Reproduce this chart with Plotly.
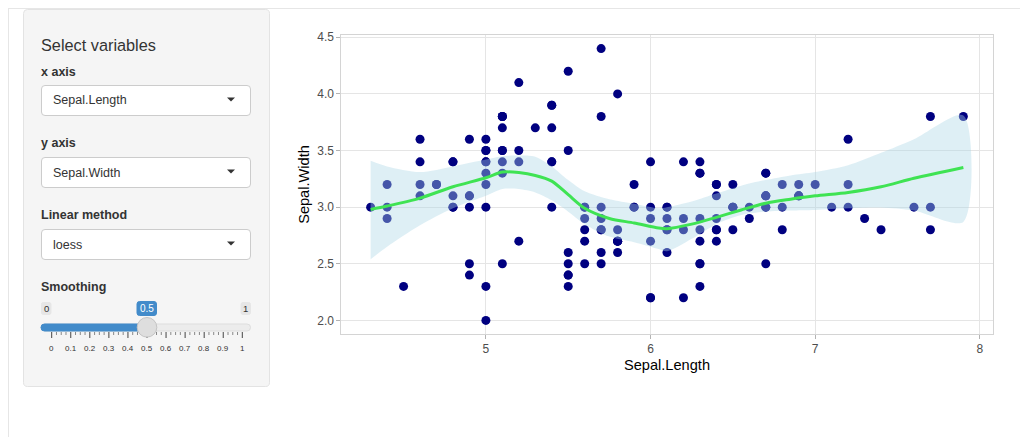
import plotly.graph_objects as go

# ---------------- data ----------------
sepal_length = [
    5.1, 4.9, 4.7, 4.6, 5.0, 5.4, 4.6, 5.0, 4.4, 4.9, 5.4, 4.8, 4.8, 4.3, 5.8, 5.7, 5.4, 5.1, 5.7, 5.1,
    5.4, 5.1, 4.6, 5.1, 4.8, 5.0, 5.0, 5.2, 5.2, 4.7, 4.8, 5.4, 5.2, 5.5, 4.9, 5.0, 5.5, 4.9, 4.4, 5.1,
    5.0, 4.5, 4.4, 5.0, 5.1, 4.8, 5.1, 4.6, 5.3, 5.0,
    7.0, 6.4, 6.9, 5.5, 6.5, 5.7, 6.3, 4.9, 6.6, 5.2, 5.0, 5.9, 6.0, 6.1, 5.6, 6.7, 5.6, 5.8, 6.2, 5.6,
    5.9, 6.1, 6.3, 6.1, 6.4, 6.6, 6.8, 6.7, 6.0, 5.7, 5.5, 5.5, 5.8, 6.0, 5.4, 6.0, 6.7, 6.3, 5.6, 5.5,
    5.5, 6.1, 5.8, 5.0, 5.6, 5.7, 5.7, 6.2, 5.1, 5.7,
    6.3, 5.8, 7.1, 6.3, 6.5, 7.6, 4.9, 7.3, 6.7, 7.2, 6.5, 6.4, 6.8, 5.7, 5.8, 6.4, 6.5, 7.7, 6.0,
    6.9, 5.6, 7.7, 6.3, 6.7, 7.2, 6.2, 6.1, 6.4, 7.2, 7.4, 7.9, 6.4, 6.3, 6.1, 7.7, 6.3, 6.4, 6.0, 6.9,
    6.7, 6.9, 5.8, 6.8, 6.7, 6.7, 6.3, 6.5, 6.2, 5.9,
]
sepal_width = [
    3.5, 3.0, 3.2, 3.1, 3.6, 3.9, 3.4, 3.4, 2.9, 3.1, 3.7, 3.4, 3.0, 3.0, 4.0, 4.4, 3.9, 3.5, 3.8, 3.8,
    3.4, 3.7, 3.6, 3.3, 3.4, 3.0, 3.4, 3.5, 3.4, 3.2, 3.1, 3.4, 4.1, 4.2, 3.1, 3.2, 3.5, 3.6, 3.0, 3.4,
    3.5, 2.3, 3.2, 3.5, 3.8, 3.0, 3.8, 3.2, 3.7, 3.3,
    3.2, 3.2, 3.1, 2.3, 2.8, 2.8, 3.3, 2.4, 2.9, 2.7, 2.0, 3.0, 2.2, 2.9, 2.9, 3.1, 3.0, 2.7, 2.2, 2.5,
    3.2, 2.8, 2.5, 2.8, 2.9, 3.0, 2.8, 3.0, 2.9, 2.6, 2.4, 2.4, 2.7, 2.7, 3.0, 3.4, 3.1, 2.3, 3.0, 2.5,
    2.6, 3.0, 2.6, 2.3, 2.7, 3.0, 2.9, 2.9, 2.5, 2.8,
    3.3, 2.7, 3.0, 2.9, 3.0, 3.0, 2.5, 2.9, 2.5, 3.6, 3.2, 2.7, 3.0, 2.5, 2.8, 3.2, 3.0, 3.8, 2.2,
    3.2, 2.8, 2.8, 2.7, 3.3, 3.2, 2.8, 3.0, 2.8, 3.0, 2.8, 3.8, 2.8, 2.8, 2.6, 3.0, 3.4, 3.1, 3.0, 3.1,
    3.1, 3.1, 2.7, 3.2, 3.3, 3.0, 2.5, 3.0, 3.4, 3.0,
]

fit_x = [4.3, 4.4, 4.6, 4.8, 5.0, 5.1, 5.2, 5.3, 5.4, 5.5, 5.6, 5.75, 5.9, 6.05, 6.1, 6.25, 6.4,
         6.55, 6.7, 6.85, 7.0, 7.2, 7.4, 7.6, 7.9]
fit_y = [2.98, 3.01, 3.08, 3.18, 3.26, 3.31, 3.305, 3.28, 3.23, 3.11, 2.99, 2.90, 2.86, 2.815, 2.81,
         2.85, 2.91, 2.975, 3.035, 3.07, 3.10, 3.13, 3.18, 3.255, 3.35]
fit_hi = [3.41, 3.36, 3.31, 3.36, 3.42, 3.45, 3.455, 3.445, 3.36, 3.24, 3.14, 3.07, 3.03, 2.99, 3.00,
          3.05, 3.12, 3.19, 3.24, 3.28, 3.31, 3.37, 3.48, 3.60, 3.81]
fit_lo = [2.54, 2.65, 2.84, 2.99, 3.10, 3.16, 3.16, 3.13, 3.06, 2.96, 2.85, 2.74, 2.69, 2.63, 2.61,
          2.72, 2.85, 2.93, 2.96, 2.97, 2.975, 2.99, 2.997, 2.97, 2.87]

x_ticks = [5, 6, 7, 8]
x_ticktext = ["5", "6", "7", "8"]
y_ticks = [2.0, 2.5, 3.0, 3.5, 4.0, 4.5]
y_ticktext = ["2.0", "2.5", "3.0", "3.5", "4.0", "4.5"]

x_label = "Sepal.Length"
y_label = "Sepal.Width"

# sidebar widget contents
panel_title = "Select variables"
input_labels = ["x axis", "y axis", "Linear method"]
input_values = ["Sepal.Length", "Sepal.Width", "loess"]
slider_label = "Smoothing"
slider_min, slider_max, slider_value = 0, 1, 0.5
slider_grid = [0, 0.1, 0.2, 0.3, 0.4, 0.5, 0.6, 0.7, 0.8, 0.9, 1]
slider_grid_text = ["0", "0.1", "0.2", "0.3", "0.4", "0.5", "0.6", "0.7", "0.8", "0.9", "1"]

# ---------------- geometry ----------------
OFF = 8  # page body margin: figure starts 8px from the window edge
W, H = 1020, 429
L, R, T, B = 333, 35, 27, 103
PW, PH = W - L - R, H - T - B


def X(px):  # px in window coordinates
    return (px - OFF - L) / PW


def Y(py):
    return (H - B - (py - OFF)) / PH


def pt(px, py):
    return f"{X(px):.5f},{Y(py):.5f}"


def rrect_path(x0, y0, x1, y1, r):
    return (f"M {pt(x0 + r, y0)} L {pt(x1 - r, y0)} Q {pt(x1, y0)} {pt(x1, y0 + r)} "
            f"L {pt(x1, y1 - r)} Q {pt(x1, y1)} {pt(x1 - r, y1)} "
            f"L {pt(x0 + r, y1)} Q {pt(x0, y1)} {pt(x0, y1 - r)} "
            f"L {pt(x0, y0 + r)} Q {pt(x0, y0)} {pt(x0 + r, y0)} Z")


shapes = []
annots = []
FONT = "Liberation Sans, Arial, Helvetica, sans-serif"


def add_rrect(x0, y0, x1, y1, r, fill, line, lw=1):
    shapes.append(dict(type="path", xref="paper", yref="paper", path=rrect_path(x0, y0, x1, y1, r),
                       fillcolor=fill, line=dict(color=line, width=lw), layer="above"))


def add_line(x0, y0, x1, y1, color, lw=1):
    shapes.append(dict(type="line", xref="paper", yref="paper", x0=X(x0), y0=Y(y0), x1=X(x1), y1=Y(y1),
                       line=dict(color=color, width=lw)))


def add_text(px, py, text, size, color="#333333", bold=False, anchor="left"):
    t = f"<b>{text}</b>" if bold else text
    annots.append(dict(xref="paper", yref="paper", x=X(px), y=Y(py), text=t, showarrow=False,
                       xanchor=anchor, yanchor="middle", xshift=-2 if anchor == "left" else 0,
                       font=dict(family=FONT, size=size, color=color)))


# page frame lines
add_line(8, 8.5, 1028, 8.5, "#e6e6e6", 1)
add_line(8.5, 8.5, 8.5, 437, "#e6e6e6", 1)

# sidebar well
add_rrect(23.5, 9.5, 269.5, 386.5, 4, "#f5f5f5", "#e3e3e3")
add_text(41, 45, panel_title, 16.3)

label_y = [72, 143, 215]
box_y = [(85.5, 115.5), (157.5, 187.5), (229.5, 259.5)]
for lab, val, ly, (by0, by1) in zip(input_labels, input_values, label_y, box_y):
    add_text(41, ly, lab, 12.5, bold=True)
    add_rrect(41.5, by0, 250.5, by1, 3.5, "#ffffff", "#cccccc")
    add_text(53, (by0 + by1) / 2, val, 12.5)
    cy = (by0 + by1) / 2
    shapes.append(dict(type="path", xref="paper", yref="paper",
                       path=f"M {pt(227, cy - 3)} L {pt(235, cy - 3)} L {pt(231, cy + 1)} Z",
                       fillcolor="#333333", line=dict(width=0)))

# slider
add_text(41, 287, slider_label, 12.5, bold=True)
g0, g1 = 51.7, 242.3


def SX(v):
    return g0 + (v - slider_min) / (slider_max - slider_min) * (g1 - g0)


# track
add_rrect(41, 324, 250.5, 331, 3.5, "#ececec", "#dddddd")
add_rrect(41, 324, SX(slider_value), 331, 3.5, "#428bca", "#428bca")
# grid ticks
n_minor = 40
for i in range(n_minor + 1):
    v = slider_min + i * (slider_max - slider_min) / n_minor
    big = (i % 4 == 0)
    add_line(SX(v), 332, SX(v), 338 if big else 335, "#444444" if big else "#888888", 1)
for v, tx in zip(slider_grid, slider_grid_text):
    add_text(SX(v), 348, tx, 8, color="#333333", anchor="center")
# min / max / value labels
add_rrect(41.5, 302.5, 51, 314.5, 2, "#e6e6e6", "#e6e6e6")
add_text(46.3, 308.5, str(slider_min), 9.5, anchor="center")
add_rrect(241, 302.5, 250.5, 314.5, 2, "#e6e6e6", "#e6e6e6")
add_text(245.8, 308.5, str(slider_max), 9.5, anchor="center")
add_rrect(SX(slider_value) - 10, 301.5, SX(slider_value) + 9.5, 315.5, 2.5, "#428bca", "#428bca")
add_text(SX(slider_value), 308.5, str(slider_value), 10, color="#ffffff", anchor="center")
# handle
hx, hy, hr = SX(slider_value), 327.3, 9.8
shapes.append(dict(type="circle", xref="paper", yref="paper", x0=X(hx - hr), x1=X(hx + hr),
                   y0=Y(hy + hr), y1=Y(hy - hr), fillcolor="#dedede", line=dict(color="#c4c4c4", width=1)))

# ---------------- traces ----------------
fig = go.Figure()
fig.add_trace(go.Scatter(x=sepal_length, y=sepal_width, mode="markers",
                         marker=dict(color="#000080", size=9, line=dict(width=0)),
                         hoverinfo="skip", showlegend=False))
band_x = fit_x + fit_x[::-1]
band_y = fit_hi + fit_lo[::-1]
fig.add_trace(go.Scatter(x=band_x, y=band_y, mode="lines", fill="toself",
                         fillcolor="rgba(173,216,230,0.4)", line=dict(width=0, shape="spline", smoothing=0.8),
                         hoverinfo="skip", showlegend=False))
fig.add_trace(go.Scatter(x=fit_x, y=fit_y, mode="lines",
                         line=dict(color="#3fe353", width=3, shape="spline", smoothing=0.8),
                         hoverinfo="skip", showlegend=False))

axis_common = dict(showgrid=True, gridcolor="#e5e5e5", gridwidth=1, zeroline=False,
                   showline=True, linecolor="#d4d4d4", linewidth=1, mirror=True,
                   ticks="outside", ticklen=3.65, tickcolor="#b3b3b3", tickwidth=1,
                   tickfont=dict(family=FONT, size=12, color="#4d4d4d"))

fig.update_layout(
    width=W, height=H,
    margin=dict(l=L, r=R, t=T, b=B, pad=0),
    paper_bgcolor="#ffffff", plot_bgcolor="#ffffff",
    showlegend=False, hovermode=False,
    xaxis=dict(range=[4.12, 8.08], tickvals=x_ticks, ticktext=x_ticktext,
               title=dict(text=x_label, font=dict(family=FONT, size=14.6, color="#000000"), standoff=4),
               **axis_common),
    yaxis=dict(range=[1.88, 4.52], tickvals=y_ticks, ticktext=y_ticktext,
               title=dict(text=y_label, font=dict(family=FONT, size=14.6, color="#000000"), standoff=4),
               **axis_common),
    shapes=shapes,
    annotations=annots,
)

fig.write_html("out.html", config={"displayModeBar": False})
